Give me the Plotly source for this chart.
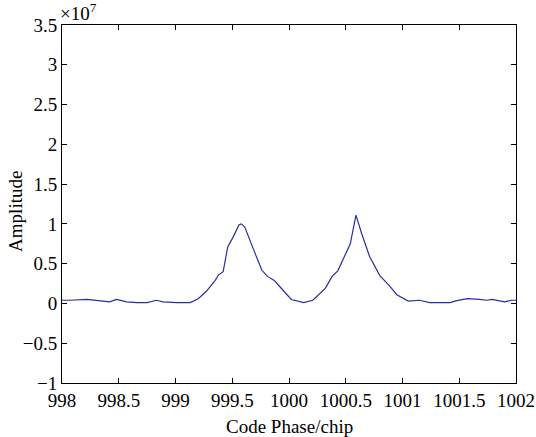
import plotly.graph_objects as go

code_phase = [998.00, 998.07, 998.22, 998.36, 998.42, 998.48, 998.57, 998.66, 998.75, 998.83,
              998.89, 999.01, 999.13, 999.20, 999.27, 999.35, 999.38, 999.42, 999.46, 999.51,
              999.56, 999.58, 999.61, 999.69, 999.76, 999.81, 999.87, 999.92, 1000.02, 1000.13,
              1000.21, 1000.32, 1000.38, 1000.43, 1000.54, 1000.59, 1000.64, 1000.71, 1000.80,
              1000.88, 1000.95, 1001.05, 1001.15, 1001.24, 1001.42, 1001.46, 1001.57, 1001.68,
              1001.74, 1001.79, 1001.90, 1001.96, 1002.00]
amplitude_e7 = [0.04, 0.04, 0.05, 0.03, 0.02, 0.05, 0.02, 0.01, 0.01, 0.04,
                0.02, 0.01, 0.01, 0.06, 0.15, 0.29, 0.36, 0.40, 0.71, 0.84,
                0.99, 1.00, 0.96, 0.67, 0.42, 0.34, 0.29, 0.21, 0.05, 0.01,
                0.04, 0.19, 0.34, 0.41, 0.75, 1.11, 0.88, 0.59, 0.35,
                0.23, 0.11, 0.03, 0.04, 0.01, 0.01, 0.03, 0.06, 0.05,
                0.04, 0.05, 0.02, 0.04, 0.04]

x_ticks = [998, 998.5, 999, 999.5, 1000, 1000.5, 1001, 1001.5, 1002]
y_ticks = [-1, -0.5, 0, 0.5, 1, 1.5, 2, 2.5, 3, 3.5]

font = "Liberation Serif"
fs = 19

fig = go.Figure()
fig.add_trace(go.Scatter(x=code_phase, y=amplitude_e7, mode="lines",
                         line=dict(color="#2a2e9e", width=1.2), showlegend=False))

axis_common = dict(showline=True, linecolor="black", linewidth=1, mirror="ticks",
                   ticks="inside", ticklen=5, tickcolor="black", showgrid=False,
                   zeroline=False, automargin=False,
                   tickfont=dict(family=font, size=fs, color="black"))

fig.update_layout(
    width=536, height=437,
    margin=dict(l=62, r=20, t=25, b=54),
    paper_bgcolor="white", plot_bgcolor="white",
    font=dict(family=font, color="black"),
    xaxis=dict(range=[998, 1002], tickvals=x_ticks,
               ticktext=[f"{v:g}" for v in x_ticks], **axis_common),
    yaxis=dict(range=[-1, 3.5], tickvals=y_ticks,
               ticktext=[f"{v:g}".replace("-", "\u2212") for v in y_ticks], **axis_common),
)
# axis titles
fig.add_annotation(text="Code Phase/chip", xref="paper", yref="paper",
                   x=0.5, y=-(426 - 383) / 358, xanchor="center", yanchor="middle",
                   showarrow=False, font=dict(family=font, size=fs, color="black"))
fig.add_annotation(text="Amplitude", xref="paper", yref="paper",
                   x=-(62 - 16) / 454, y=0.478, xanchor="center", yanchor="middle",
                   textangle=-90, showarrow=False,
                   font=dict(family=font, size=fs, color="black"))
fig.add_annotation(text="\u00d710<sup>7</sup>", xref="paper", yref="paper",
                   x=0, y=1, xanchor="left", yanchor="bottom", showarrow=False,
                   font=dict(family=font, size=19, color="black"), xshift=-4, yshift=-1)

fig.write_html("out.html")
